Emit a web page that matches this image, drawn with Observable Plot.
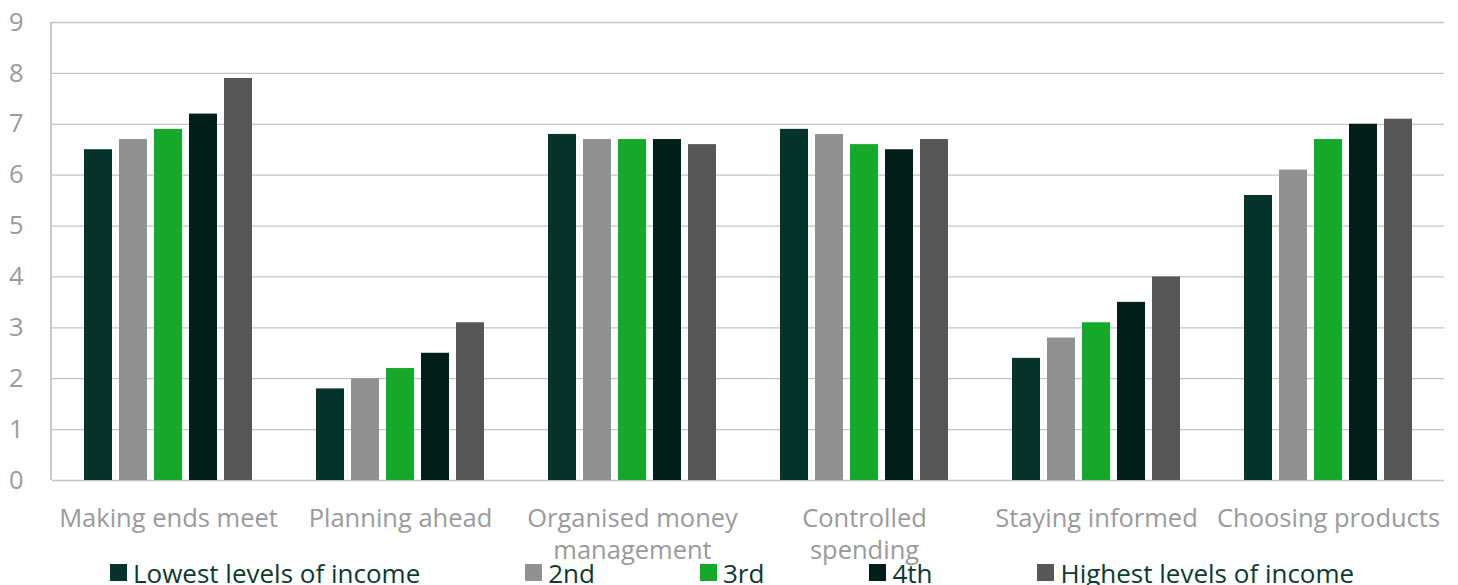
<!DOCTYPE html>
<html><head><meta charset="utf-8">
<script src="https://cdn.jsdelivr.net/npm/d3@7"></script>
<script src="https://cdn.jsdelivr.net/npm/@observablehq/plot@0.6"></script>
<style>
body{margin:0;background:#fff;font-family:"Open Sans",sans-serif;overflow:hidden;}
#chart svg{overflow:visible;display:block;}
#legend{display:flex;gap:105px;padding-left:110px;font-size:26px;color:#0b3a2e;line-height:24px;height:25px;white-space:nowrap;}
#legend .item{display:flex;align-items:center;gap:6px;}
#legend .sw{width:17px;height:17px;display:inline-block;}
</style></head><body><div id="chart"></div><div id="legend"></div>
<script>
const categories = ["Making ends meet","Planning ahead","Organised money management","Controlled spending","Staying informed","Choosing products"];
const tickLabels = ["Making ends meet","Planning ahead","Organised money\nmanagement","Controlled\nspending","Staying informed","Choosing products"];
const series = ["Lowest levels of income","2nd","3rd","4th","Highest levels of income"];
const colors = ["#06332a","#919191","#16a82a","#041e19","#575757"];
const lowest  = [6.5,1.8,6.8,6.9,2.4,5.6];
const second  = [6.7,2.0,6.7,6.8,2.8,6.1];
const third   = [6.9,2.2,6.7,6.6,3.1,6.7];
const fourth  = [7.2,2.5,6.7,6.5,3.5,7.0];
const highest = [7.9,3.1,6.6,6.7,4.0,7.1];
const yTicks = [0,1,2,3,4,5,6,7,8,9];

const values = [lowest, second, third, fourth, highest];
const data = [];
categories.forEach((c,i)=>series.forEach((s,j)=>data.push({category:c, series:s, value:values[j][i]})));
const labelMap = new Map(categories.map((c,i)=>[c,tickLabels[i]]));

const plot = Plot.plot({
  width:1458, height:560, marginTop:22, marginBottom:80, marginLeft:51, marginRight:13,
  style:{fontFamily:"Open Sans", fontSize:"25.5px", color:"#9a9a9a", background:"#fff", overflow:"visible"},
  fx:{domain:categories, padding:0, label:null, axis:null},
  x:{domain:series, paddingInner:0.21, paddingOuter:0.835, axis:null},
  y:{domain:[0,9], label:null, axis:null},
  color:{domain:series, range:colors},
  marks:[
    Plot.ruleY(yTicks, {stroke:"#c4c4c4", strokeWidth:1.3}),
    Plot.barY(data, {fx:"category", x:"series", y:"value", fill:"series"}),
    Plot.axisY(yTicks, {tickSize:0, tickPadding:29, label:null, tickFormat:d=>String(d), fill:"#9a9a9a"}),
    Plot.axisFx({anchor:"bottom", tickSize:0, tickPadding:23, label:null, tickFormat:d=>labelMap.get(d), lineHeight:1.27, fill:"#9a9a9a"})
  ]
});
document.getElementById("chart").appendChild(plot);
const ys = plot.scale("y").range;
d3.select(plot).append("line").attr("x1",51).attr("x2",51).attr("y1",ys[0]).attr("y2",ys[1]).attr("stroke","#aaa").attr("stroke-width",1.3);

const lg = d3.select("#legend");
series.forEach((s,i)=>{
  const it = lg.append("div").attr("class","item");
  it.append("span").attr("class","sw").style("background",colors[i]);
  it.append("span").text(s);
});
</script></body></html>
